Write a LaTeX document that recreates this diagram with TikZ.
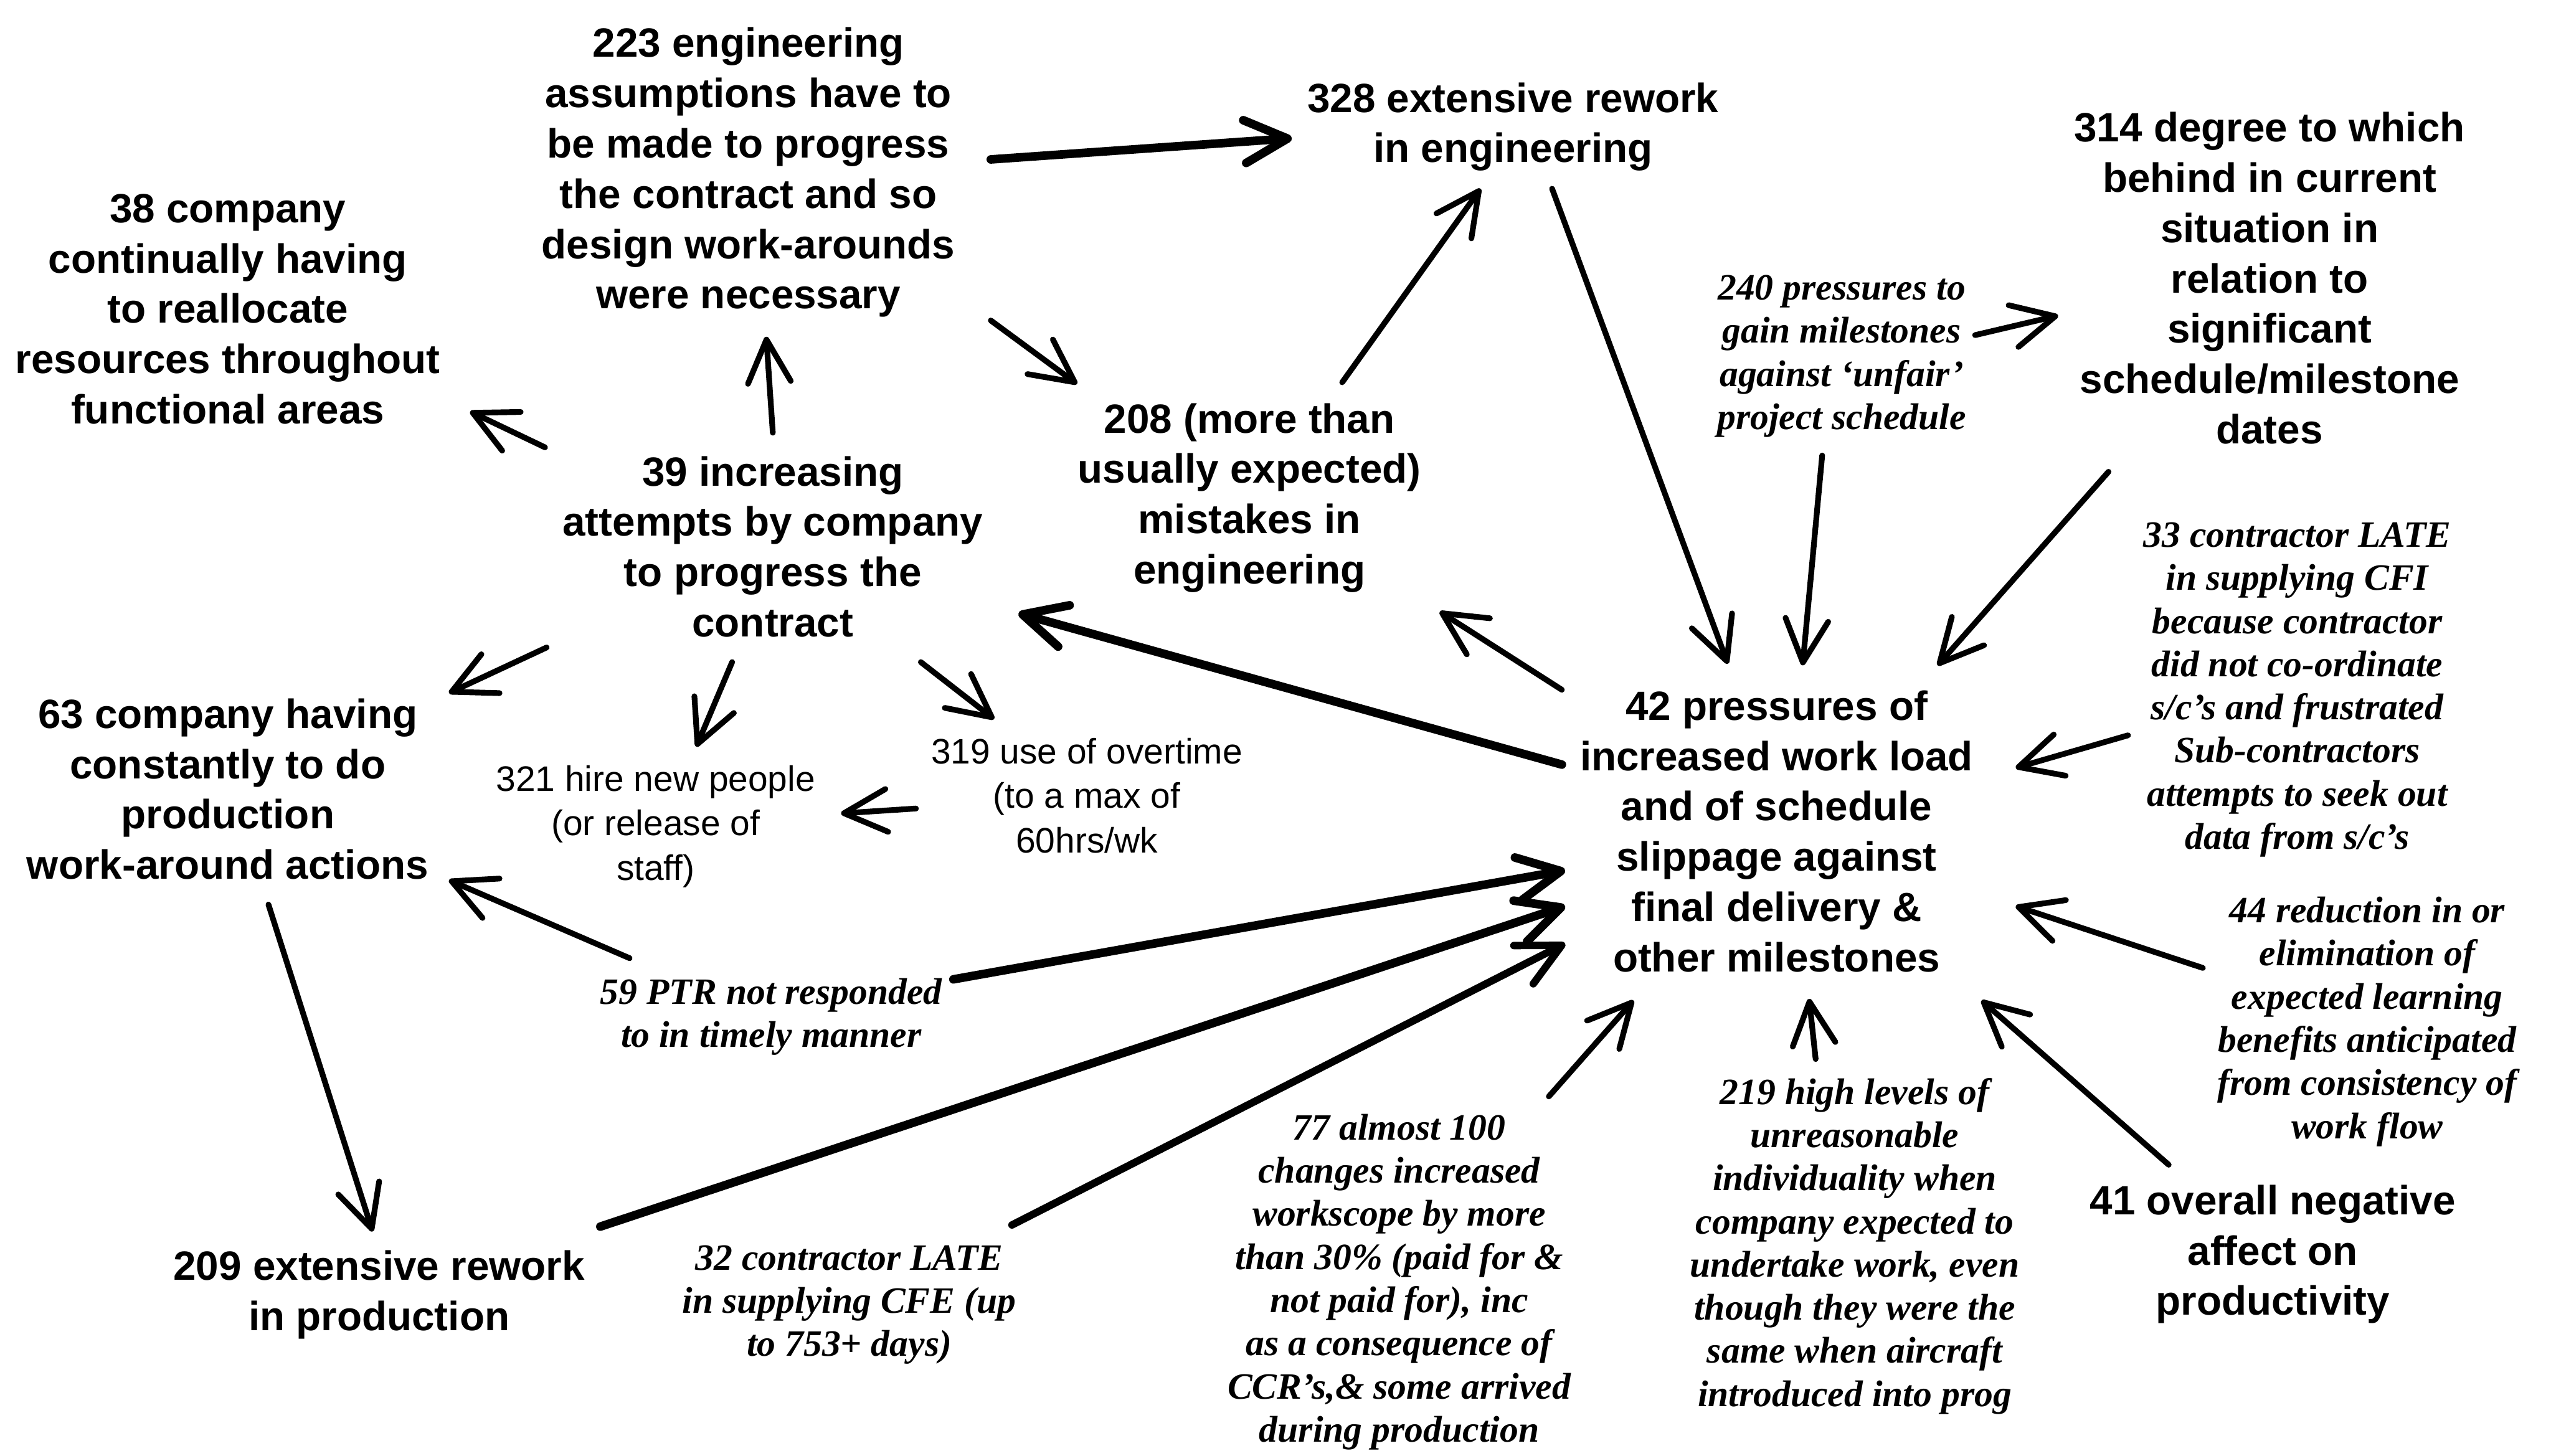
\documentclass[tikz,border=0pt]{standalone}
\usepackage{fontspec}
\setmainfont{Liberation Sans}
\newfontfamily\itserif{Liberation Serif}
\usetikzlibrary{arrows.meta}

% connector from one node to another, each end given as an offset from the node centre
\newcommand\conn[5][]{\draw[link,#1] ([shift={(#3)}]#2.center) -- ([shift={(#5)}]#4.center);}

\begin{document}
\begin{tikzpicture}[x=0.02cm,y=-0.02cm,
  box/.style={align=center,inner sep=0pt,font=\fontsize{14.3}{17.6}\selectfont\bfseries},
  plain/.style={align=center,inner sep=0pt,font=\fontsize{12.4}{15.6}\selectfont},
  note/.style={align=center,inner sep=0pt,font=\itserif\fontsize{13}{15.1}\selectfont\bfseries\itshape},
  link/.style={line width=2pt,line cap=round,-{Straight Barb[length=15pt,width=15pt,round]}},
  heavy/.style={line width=3pt}]

\useasboundingbox[fill=white] (0,0) rectangle (1568,895);

% concepts
\node[box] (n223) at (460,106) {223 engineering\\assumptions have to\\be made to progress\\the contract and so\\design work-arounds\\were necessary};
\node[box] (n38) at (140,190) {38 company\\continually having\\to reallocate\\resources throughout\\functional areas};
\node[box] (n328) at (930,78) {328 extensive rework\\in engineering};
\node[box] (n314) at (1395,171) {314 degree to which\\behind in current\\situation in\\relation to\\significant\\schedule/milestone\\dates};
\node[box] (n208) at (768,306) {208 (more than\\usually expected)\\mistakes in\\engineering};
\node[box] (n39) at (475,336) {39 increasing\\attempts by company\\to progress the\\contract};
\node[note] (n240) at (1132,219) {240 pressures to\\gain milestones\\against ‘unfair’\\project schedule};
\node[note] (n33) at (1412,424) {33 contractor LATE\\in supplying CFI\\because contractor\\did not co-ordinate\\s/c’s and frustrated\\Sub-contractors\\attempts to seek out\\data from s/c’s};
\node[box] (n42) at (1092,511) {42 pressures of\\increased work load\\and of schedule\\slippage against\\final delivery \&\\other milestones};
\node[box] (n63) at (140,485) {63 company having\\constantly to do\\production\\work-around actions};
\node[plain] (n321) at (403,508) {321 hire new people\\(or release of\\staff)};
\node[plain] (n319) at (668,489) {319 use of overtime\\(to a max of\\60hrs/wk};
\node[note] (n59) at (474,625) {59 PTR not responded\\to in timely manner};
\node[note] (n44) at (1455,628) {44 reduction in or\\elimination of\\expected learning\\benefits anticipated\\from consistency of\\work flow};
\node[box] (n209) at (233,796) {209 extensive rework\\in production};
\node[note] (n32) at (522,802) {32 contractor LATE\\in supplying CFE (up\\to 753+ days)};
\node[note] (n77) at (860,788) {77 almost 100\\changes increased\\workscope by more\\than 30\% (paid for \&\\not paid for), inc\\as a consequence of\\CCR’s,\& some arrived\\during production};
\node[note] (n219) at (1140,766) {219 high levels of\\unreasonable\\individuality when\\company expected to\\undertake work, even\\though they were the\\same when aircraft\\introduced into prog};
\node[box] (n41) at (1397,771) {41 overall negative\\affect on\\productivity};

% influences
\conn[heavy]{n223}{149,-8}{n328}{-136,7}
\conn{n223}{149,91}{n208}{-106,-70}
\conn{n39}{0,-70}{n223}{11,101}
\conn{n39}{-140,-61}{n38}{149,63}
\conn{n208}{57,-71}{n328}{-20,38}
\conn{n328}{24,38}{n42}{-30,-103}
\conn{n240}{82,-13}{n314}{-130,23}
\conn{n240}{-12,61}{n42}{16,-102}
\conn{n314}{-99,119}{n42}{99,-102}
\conn[heavy]{n42}{-132,-41}{n39}{151,41}
\conn{n42}{-132,-87}{n208}{117,70}
\conn{n33}{-104,28}{n42}{147,-39}
\conn{n39}{-139,62}{n63}{136,-59}
\conn{n39}{-25,71}{n321}{25,-49}
\conn{n39}{91,71}{n319}{-57,-47}
\conn{n319}{-105,8}{n321}{114,-8}
\conn{n59}{-87,-36}{n63}{136,56}
\conn[heavy]{n59}{112,-23}{n42}{-130,24}
\conn[heavy]{n209}{136,-42}{n42}{-130,46}
\conn[line width=2.6pt]{n32}{100,-49}{n42}{-130,69}
\conn{n77}{92,-114}{n42}{-88,104}
\conn{n219}{-24,-115}{n42}{20,103}
\conn{n41}{-64,-55}{n42}{126,104}
\conn{n44}{-101,-33}{n42}{147,46}
\conn{n63}{25,71}{n209}{-4,-39}

\end{tikzpicture}
\end{document}
